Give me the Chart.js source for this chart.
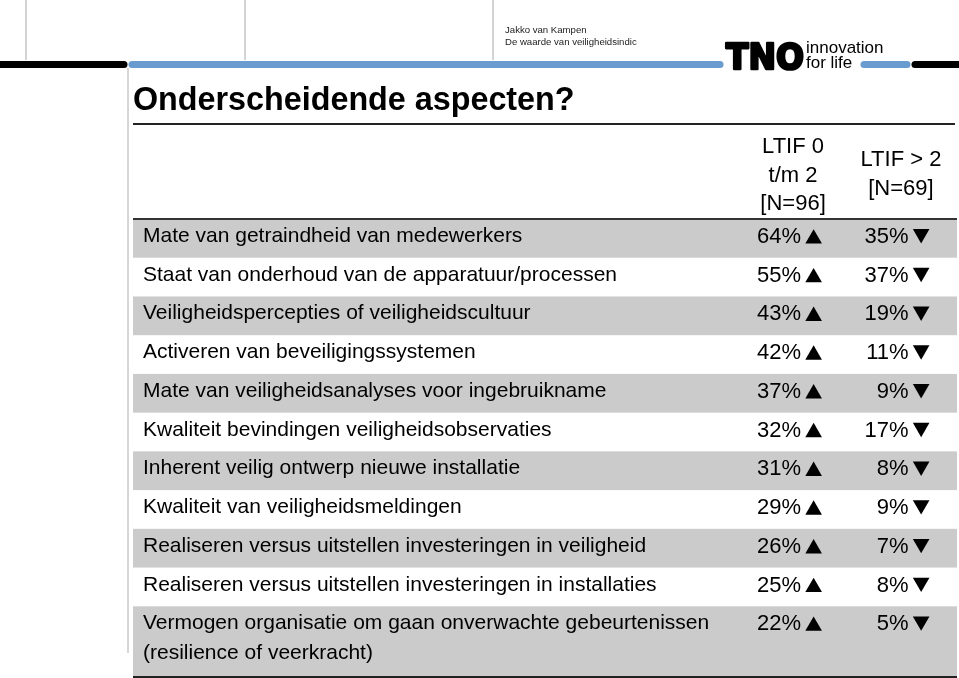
<!DOCTYPE html>
<html>
<head>
<meta charset="utf-8">
<title>Onderscheidende aspecten?</title>
<script src="https://cdn.jsdelivr.net/npm/chart.js"></script>
<style>
body{margin:0;background:#fff;}
#wrap{width:959px;height:678px;}
</style>
</head>
<body>
<div id="wrap"><canvas id="chart" width="959" height="678"></canvas></div>
<script>
// ---- data ----
const title = "Onderscheidende aspecten?";
const author = ["Jakko van Kampen", "De waarde van veiligheidsindic"];
const headerLow = ["LTIF 0", "t/m 2", "[N=96]"];
const headerHigh = ["LTIF > 2", "[N=69]"];
const aspects = [
  "Mate van getraindheid van medewerkers",
  "Staat van onderhoud van de apparatuur/processen",
  "Veiligheidspercepties of veiligheidscultuur",
  "Activeren van beveiligingssystemen",
  "Mate van veiligheidsanalyses voor ingebruikname",
  "Kwaliteit bevindingen veiligheidsobservaties",
  "Inherent veilig ontwerp nieuwe installatie",
  "Kwaliteit van veiligheidsmeldingen",
  "Realiseren versus uitstellen investeringen in veiligheid",
  "Realiseren versus uitstellen investeringen in installaties",
  ["Vermogen organisatie om gaan onverwachte gebeurtenissen", "(resilience of veerkracht)"]
];
const ltifLow = [64, 55, 43, 42, 37, 32, 31, 29, 26, 25, 22];
const ltifHigh = [35, 37, 19, 11, 9, 17, 8, 9, 7, 8, 5];

// ---- layout ----
const FONT = '"Liberation Sans", Arial, sans-serif';
const BLUE = "#6a9bcf";
const GRAY_ROW = "#cbcbcb";
const COL_LOW = 0.826, COL_HIGH = 0.9565;     // marker columns (table fraction)
const HEAD_LOW = 0.801, HEAD_HIGH = 0.932;    // header centres
const rowWeight = aspects.map(a => Array.isArray(a) ? 1 + 0.8 * (a.length - 1) : 1);
const rowStart = [];
let acc = 0;
rowWeight.forEach(w => { rowStart.push(acc); acc += w; });
const totalRows = acc;

const tablePlugin = {
  id: "tablePlugin",
  beforeDraw(chart) {
    const ctx = chart.ctx, a = chart.chartArea, y = chart.scales.y, x = chart.scales.x;
    ctx.save();
    ctx.fillStyle = "#fff";
    ctx.fillRect(0, 0, chart.width, chart.height);

    // thin gray guide lines at the top
    ctx.strokeStyle = "#c4c4c4";
    ctx.lineWidth = 1.5;
    [26, 245, 493].forEach(px => {
      ctx.beginPath(); ctx.moveTo(px, 0); ctx.lineTo(px, 60); ctx.stroke();
    });
    ctx.strokeStyle = "#d6d6d6";
    ctx.lineWidth = 2;
    ctx.beginPath(); ctx.moveTo(128, 68); ctx.lineTo(128, 653); ctx.stroke();

    // bar with TNO logo
    ctx.lineWidth = 7;
    ctx.lineCap = "round";
    const seg = (x1, x2, c) => {
      ctx.strokeStyle = c; ctx.beginPath(); ctx.moveTo(x1, 64.5); ctx.lineTo(x2, 64.5); ctx.stroke();
    };
    seg(-5, 124, "#000");
    seg(132, 720, BLUE);
    seg(864, 907, BLUE);
    seg(915, 965, "#000");
    ctx.lineCap = "butt";

    ctx.fillStyle = "#000";
    ctx.strokeStyle = "#000";
    ctx.font = "bold 35px 'DejaVu Sans'";
    ctx.textBaseline = "alphabetic";
    const tw = ctx.measureText("TNO").width;
    ctx.save();
    ctx.translate(726, 68.5);
    ctx.scale(78 / tw, 1);
    ctx.lineWidth = 2.6;
    ctx.lineJoin = "round";
    ctx.fillText("TNO", 0, 0);
    ctx.strokeText("TNO", 0, 0);
    ctx.restore();
    ctx.font = "17px " + FONT;
    ctx.fillText("innovation", 806, 53);
    ctx.fillText("for life", 806, 67.5);

    ctx.font = "9.6px " + FONT;
    ctx.fillStyle = "#222";
    ctx.fillText(author[0], 505, 33);
    ctx.fillText(author[1], 505, 45);

    // title
    ctx.fillStyle = "#000";
    ctx.font = "bold 32.3px " + FONT;
    ctx.fillText(title, 133, 110);
    ctx.strokeStyle = "#222";
    ctx.lineWidth = 2;
    ctx.beginPath(); ctx.moveTo(133, 124); ctx.lineTo(955, 124); ctx.stroke();

    // shaded rows
    ctx.fillStyle = GRAY_ROW;
    rowStart.forEach((s, i) => {
      if (i % 2) return;
      const t = y.getPixelForValue(s), b = y.getPixelForValue(s + rowWeight[i]);
      ctx.fillRect(a.left, t, a.right - a.left, b - t);
    });

    // column headers
    ctx.fillStyle = "#000";
    ctx.font = "22px " + FONT;
    ctx.textAlign = "center";
    const hl = x.getPixelForValue(HEAD_LOW), hh = x.getPixelForValue(HEAD_HIGH);
    headerLow.forEach((t, i) => ctx.fillText(t, hl, a.top - 66 + i * 28.5));
    headerHigh.forEach((t, i) => ctx.fillText(t, hh, a.top - 53 + i * 29));

    // rules
    ctx.strokeStyle = "#333";
    ctx.lineWidth = 2;
    ctx.beginPath(); ctx.moveTo(a.left, a.top); ctx.lineTo(a.right, a.top); ctx.stroke();
    ctx.strokeStyle = "#222";
    ctx.beginPath(); ctx.moveTo(a.left, a.bottom + 1); ctx.lineTo(a.right, a.bottom + 1); ctx.stroke();
    ctx.restore();
  },
  afterDatasetsDraw(chart) {
    const ctx = chart.ctx, a = chart.chartArea, y = chart.scales.y;
    ctx.save();
    ctx.fillStyle = "#000";
    ctx.textBaseline = "alphabetic";
    // aspect labels
    ctx.font = "21px " + FONT;
    ctx.textAlign = "left";
    aspects.forEach((lab, i) => {
      const top = y.getPixelForValue(rowStart[i]);
      [].concat(lab).forEach((line, j) => ctx.fillText(line, a.left + 10, top + 23 + j * 30));
    });
    // percentages next to the markers
    ctx.font = "22px " + FONT;
    ctx.textAlign = "right";
    chart.data.datasets.forEach((ds, di) => {
      chart.getDatasetMeta(di).data.forEach((pt, i) => {
        const top = y.getPixelForValue(rowStart[i]);
        ctx.fillText(ds.data[i].v + "%", pt.x - 12.5, top + 24);
      });
    });
    ctx.restore();
  }
};

new Chart(document.getElementById("chart"), {
  type: "scatter",
  data: {
    datasets: [
      {
        label: "LTIF 0 t/m 2 [N=96]",
        data: ltifLow.map((v, i) => ({ x: COL_LOW, y: rowStart[i] + 0.51, v })),
        pointStyle: "triangle",
        rotation: 0,
        radius: 9.6,
        backgroundColor: "#000",
        borderWidth: 0
      },
      {
        label: "LTIF > 2 [N=69]",
        data: ltifHigh.map((v, i) => ({ x: COL_HIGH, y: rowStart[i] + 0.385, v })),
        pointStyle: "triangle",
        rotation: 180,
        radius: 9.6,
        backgroundColor: "#000",
        borderWidth: 0
      }
    ]
  },
  options: {
    responsive: false,
    animation: false,
    devicePixelRatio: 1,
    layout: { autoPadding: false, padding: { top: 219, left: 133, right: 2, bottom: 2 } },
    scales: {
      x: { type: "linear", min: 0, max: 1, display: false },
      y: { type: "linear", min: 0, max: totalRows, reverse: true, display: false }
    },
    plugins: { legend: { display: false }, tooltip: { enabled: false } }
  },
  plugins: [tablePlugin]
});
</script>
</body>
</html>
